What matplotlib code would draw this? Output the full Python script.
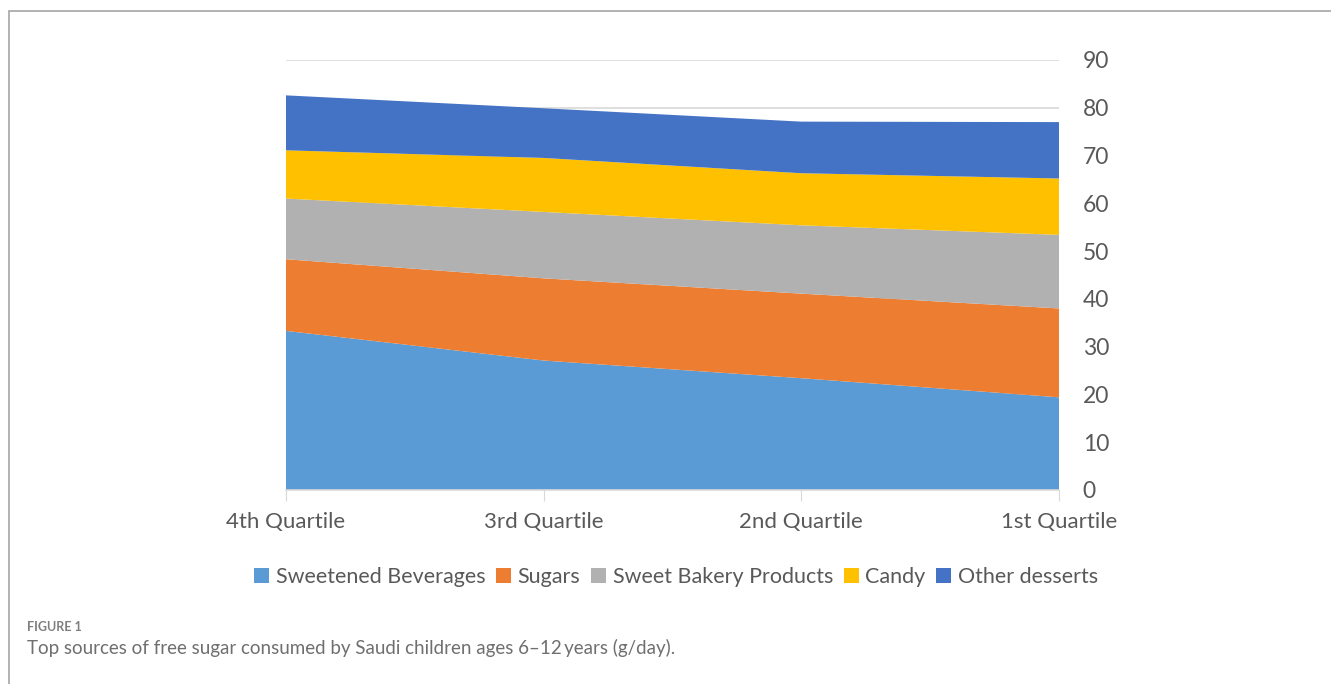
import matplotlib
matplotlib.use('Agg')
import matplotlib.pyplot as plt
from matplotlib.patches import Rectangle
import numpy as np

quartiles = ['4th Quartile', '3rd Quartile', '2nd Quartile', '1st Quartile']
series_names = ['Sweetened Beverages', 'Sugars', 'Sweet Bakery Products', 'Candy', 'Other desserts']
sweetened_beverages = [33.3, 27.1, 23.4, 19.4]
sugars = [15.0, 17.2, 17.7, 18.6]
sweet_bakery = [12.7, 13.9, 14.3, 15.4]
candy = [10.1, 11.3, 10.9, 11.8]
other_desserts = [11.5, 10.4, 10.8, 11.8]
colors = ['#5b9bd5', '#ed7d31', '#b1b1b1', '#ffc000', '#4472c4']

plt.rcParams['font.family'] = ['Lato', 'DejaVu Sans']
txt = '#595959'

fig = plt.figure(figsize=(13.31, 6.84), dpi=100)
ax = fig.add_axes([286/1331, 1-490/684, (1059-286)/1331, 430/684])

x = np.arange(len(quartiles))
ax.stackplot(x, sweetened_beverages, sugars, sweet_bakery, candy, other_desserts,
             colors=colors, labels=series_names, zorder=2)

ax.set_xlim(0, 3)
ax.set_ylim(0, 90)
ax.set_yticks(range(0, 91, 10))
ax.yaxis.tick_right()
ax.grid(axis='y', color='#d9d9d9', lw=1.2, zorder=0)
ax.tick_params(axis='y', length=0, pad=17, labelsize=16.5, labelcolor=txt)
ax.set_xticks(x)
ax.set_xticklabels(quartiles)
ax.tick_params(axis='x', length=8, color='#d9d9d9', pad=8, labelsize=16, labelcolor=txt)
for s in ['top', 'right', 'left']:
    ax.spines[s].set_visible(False)
ax.spines['bottom'].set_color('#d9d9d9')
ax.spines['bottom'].set_linewidth(1.2)
ax.spines['bottom'].set_zorder(3)

leg = fig.legend(loc='center', bbox_to_anchor=(676/1331, 1-577/684), ncol=5, frameon=False,
                 fontsize=15.5, handlelength=0.7, handleheight=0.7, handletextpad=0.3,
                 columnspacing=0.5)
for t in leg.get_texts():
    t.set_color(txt)

fig.patches.append(Rectangle((9/1331, -0.1), 1.2, 1.1 - 11/684, transform=fig.transFigure,
                             fill=False, edgecolor='#a6a6a6', lw=1.2))
fig.text(27/1331, 1-627/684, 'FIGURE 1', fontsize=9, fontweight='bold', color='#7f7f7f',
         va='center', ha='left')
fig.text(27/1331, 1-648/684, 'Top sources of free sugar consumed by Saudi children ages 6\u201312\u2009years (g/day).',
         fontsize=13.5, color='#6f6f6f', va='center', ha='left')

fig.savefig('out.png', dpi=100)
